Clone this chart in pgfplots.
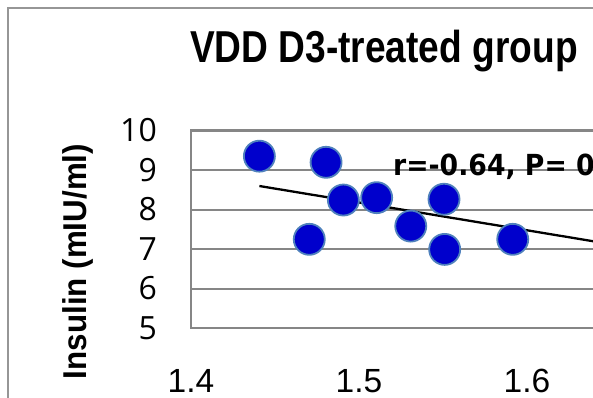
\documentclass[border=0pt]{standalone}
\usepackage{fontspec}
\setmainfont{Liberation Sans}
\newfontfamily\yfont{Open Sans}
\newfontfamily\annfont{DejaVu Sans}
\usepackage{pgfplots}
\pgfplotsset{compat=1.18}
\definecolor{gridgray}{RGB}{134,134,134}
\definecolor{framegray}{RGB}{150,150,150}
\definecolor{ptblue}{RGB}{0,0,204}
\definecolor{ptedge}{RGB}{79,129,189}
\begin{document}
\begin{tikzpicture}
\path[use as bounding box] (0pt,0pt) rectangle (593pt,397pt);
\clip (0pt,0pt) rectangle (593pt,397pt);
\fill[white] (0pt,0pt) rectangle (593pt,397pt);
\draw[framegray, line width=2pt] (8pt,-5pt) -- (8pt,389pt) -- (600pt,389pt);
\node[anchor=base west, inner sep=0pt] at (190pt,334pt) {\scalebox{0.83}[1]{\fontsize{44.7}{50}\selectfont\bfseries VDD D3-treated group}};
\node[rotate=90, anchor=base, inner sep=0pt] at (86pt,135.5pt) {\scalebox{0.95}[1]{\fontsize{33}{38}\selectfont\bfseries Insulin (mIU/ml)}};
\begin{axis}[
  at={(191pt,69pt)}, anchor=south west,
  scale only axis, width=504pt, height=197.5pt,
  xmin=1.4, xmax=1.7, ymin=5, ymax=10,
  xtick={1.4,1.5,1.6}, ytick={5,6,7,8,9,10},
  ymajorgrids,
  grid style={gridgray, line width=2pt},
  axis line style={gridgray, line width=2.2pt},
  major tick length=0pt,
  /pgf/number format/assume math mode=true,
  /pgf/number format/fixed,
  xticklabel style={font=\fontsize{33.5}{38}\selectfont, anchor=base, inner sep=0pt, yshift=-64pt},
  yticklabel style={font=\yfont\fontsize{32}{36}\selectfont, anchor=east, inner sep=0pt, xshift=-34pt},
]
\addplot[only marks, mark=*, mark size=15.5pt, mark options={fill=ptblue, draw=ptedge, line width=1.8pt}] coordinates {
 (1.4407,9.35) (1.4804,9.195) (1.4704,7.245) (1.4907,8.24) (1.5105,8.30)
 (1.5308,7.58) (1.5506,8.26) (1.5510,6.99) (1.5915,7.245)
};
\addplot[black, line width=2.3pt] coordinates {(1.4407,8.595) (1.70,6.77)};
\node[anchor=base west, inner sep=0pt] at (axis cs:1.5202,8.873) {\scalebox{0.92}[1]{\annfont\fontsize{29}{33}\selectfont\bfseries r=-0.64, P= 0}};
\end{axis}
\end{tikzpicture}
\end{document}
